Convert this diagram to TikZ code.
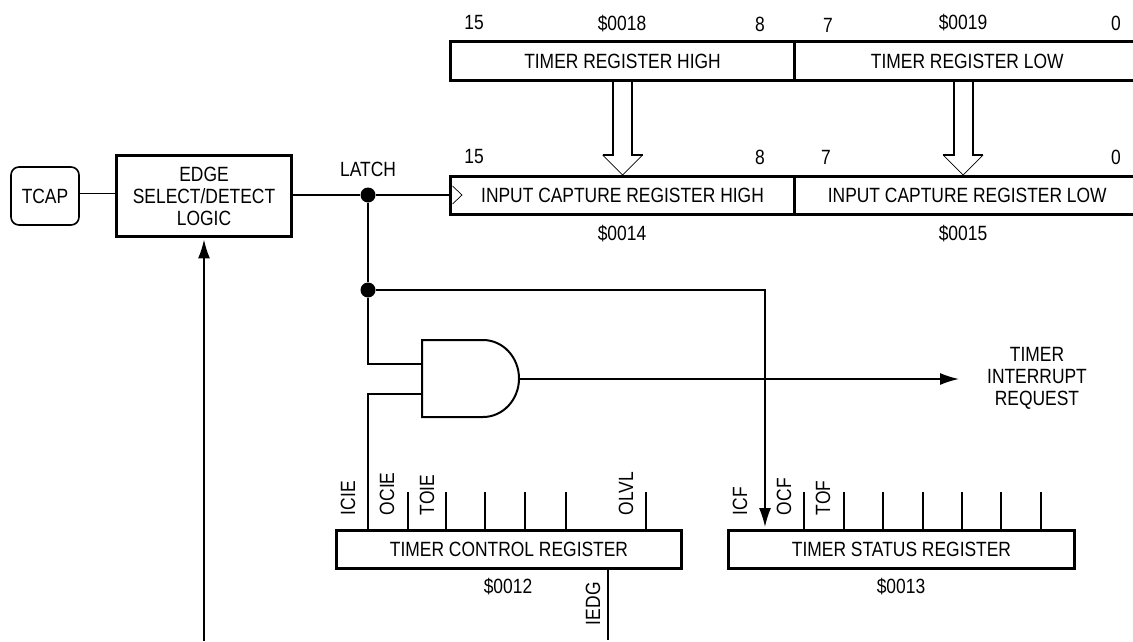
\documentclass[tikz,border=0pt]{standalone}
\usepackage{fontspec}
\setmainfont[FakeStretch=0.845]{Liberation Sans}
\usetikzlibrary{arrows.meta}
\def\px{0.03cm}
\tikzset{
    lbl/.style={inner sep=0pt,outer sep=0pt,font=\fontsize{17.6}{18.7}\selectfont,align=center},
    vlbl/.style={lbl,rotate=90,anchor=west},
    regbox/.style={lbl,draw,line width=2.55pt,minimum height=38*\px},
    wire/.style={line width=1.4pt},
    arrowwire/.style={wire,-{Latex[length=19*\px,width=12*\px]}},
    junction/.style={circle,fill=black,inner sep=0pt,minimum size=15*\px}
}
\begin{document}
\begin{tikzpicture}[x=\px,y=-\px]
    \useasboundingbox (0,0) rectangle (1133,641);
    \clip (0,0) rectangle (1133,641);
    \fill[white] (0,0) rectangle (1133,641);

    % timer registers
    \node[regbox,minimum width=344*\px,minimum height=39*\px] (trh) at (622.5,61) {TIMER REGISTER HIGH};
    \node[regbox,minimum width=345.5*\px,minimum height=39*\px] (trl) at (967.25,61) {TIMER REGISTER LOW};
    \node[regbox,minimum width=344*\px] (ich) at (622.5,195.5) {INPUT CAPTURE REGISTER HIGH};
    \node[regbox,minimum width=345.5*\px] (icl) at (967.25,195.5) {INPUT CAPTURE REGISTER LOW};

    \node[lbl] (n15a) at (474,23) {15};
    \node[lbl] (addr18) at (622,24) {\$0018};
    \node[lbl] (n8a) at (760,24) {8};
    \node[lbl] (n7a) at (828,25) {7};
    \node[lbl] (addr19) at (963,23) {\$0019};
    \node[lbl] (n0a) at (1116,23) {0};
    \node[lbl] (n15b) at (474,157) {15};
    \node[lbl] (n8b) at (760,157) {8};
    \node[lbl] (n7b) at (826,157) {7};
    \node[lbl] (n0b) at (1116,157) {0};
    \node[lbl] (addr14) at (622,234) {\$0014};
    \node[lbl] (addr15) at (963,234) {\$0015};

    % transfer arrows
    \coordinate (bush) at (622.5,175);
    \coordinate (busl) at (963,175);
    \foreach \tip in {bush,busl} {
        \draw[line width=1.7pt] (\tip) ++(-9.5,-95) -- ++(0,75) -- ++(-10.5,0);
        \draw[line width=1.7pt] (\tip) ++(9.5,-95) -- ++(0,75) -- ++(10.5,0);
        \draw[line width=0.6pt] (\tip) ++(-20,-20) -- (\tip) -- ++(20,-20);
    }
    \draw[line width=0.6pt] (452.5,186) -- (462,195) -- (452.5,204);

    % left side
    \node[lbl,draw,line width=1.4pt,rounded corners=8*\px,minimum width=68*\px,minimum height=58*\px] (tcap) at (45,196) {TCAP};
    \node[regbox,minimum width=175*\px,minimum height=81*\px] (edge) at (204,196) {EDGE\\SELECT/DETECT\\LOGIC};
    \node[lbl] (latch) at (368,169) {LATCH};
    \node[junction] (dota) at (368,195) {};
    \node[junction] (dotb) at (368,290) {};
    \coordinate (edgein) at (204,641);
    \coordinate (iedgend) at (608,640);

    \draw[wire] ([yshift=2pt]tcap.east) -- ([yshift=2pt]edge.west);
    \draw[wire] (edge.east |- dota) -- (dota) -- (dota -| ich.west);
    \draw[wire] (dota) -- (dotb);
    \draw[arrowwire] (edgein) -- ([yshift=-2.5pt]edge.south);

    % gate
    \coordinate (gin1) at (422,364);
    \coordinate (gin2) at (422,394);
    \coordinate (gout) at (519,379);
    \draw[line width=1.7pt] (422,340) -- (483,340) arc[start angle=90,end angle=-90,x radius=36,y radius=-38.5] -- (422,417) -- cycle;

    % control and status registers
    \node[regbox,minimum width=345*\px] (tcr) at (509,549.5) {TIMER CONTROL REGISTER};
    \node[regbox,minimum width=346*\px] (tsr) at (901.5,549.5) {TIMER STATUS REGISTER};
    \node[lbl] (addr12) at (508,587) {\$0012};
    \node[lbl] (addr13) at (901,587) {\$0013};

    \foreach \x in {408,446,485,525,566,646}
        \draw[wire] (\x,492) -- (\x,531);
    \foreach \x in {804,844,883,923,962,1001,1041}
        \draw[wire] (\x,492) -- (\x,531);

    \node[vlbl] (icie) at (348,515) {ICIE};
    \node[vlbl] (ocie) at (387,515) {OCIE};
    \node[vlbl] (toie) at (427,515) {TOIE};
    \node[vlbl] (olvl) at (626,515) {OLVL};
    \node[vlbl] (iedg) at (593,625) {IEDG};
    \node[vlbl] (icf) at (740,515) {ICF};
    \node[vlbl] (ocf) at (784,515) {OCF};
    \node[vlbl] (tof) at (823,515) {TOF};

    \coordinate (tcrin) at (368,531);
    \coordinate (tsrin) at (765,527);
    \coordinate (tcrout) at (608,568);

    \draw[wire] (dotb) |- (gin1);
    \draw[wire] (tcrin) |- (gin2);
    \draw[arrowwire] (dotb) -| (tsrin);
    \draw[wire] (tcrout) -- (iedgend);

    \node[lbl] (tirq) at (1037,378) {TIMER\\INTERRUPT\\REQUEST};
    \coordinate (tirqin) at (959,379);
    \draw[arrowwire] (gout) -- (tirqin);
\end{tikzpicture}
\end{document}
